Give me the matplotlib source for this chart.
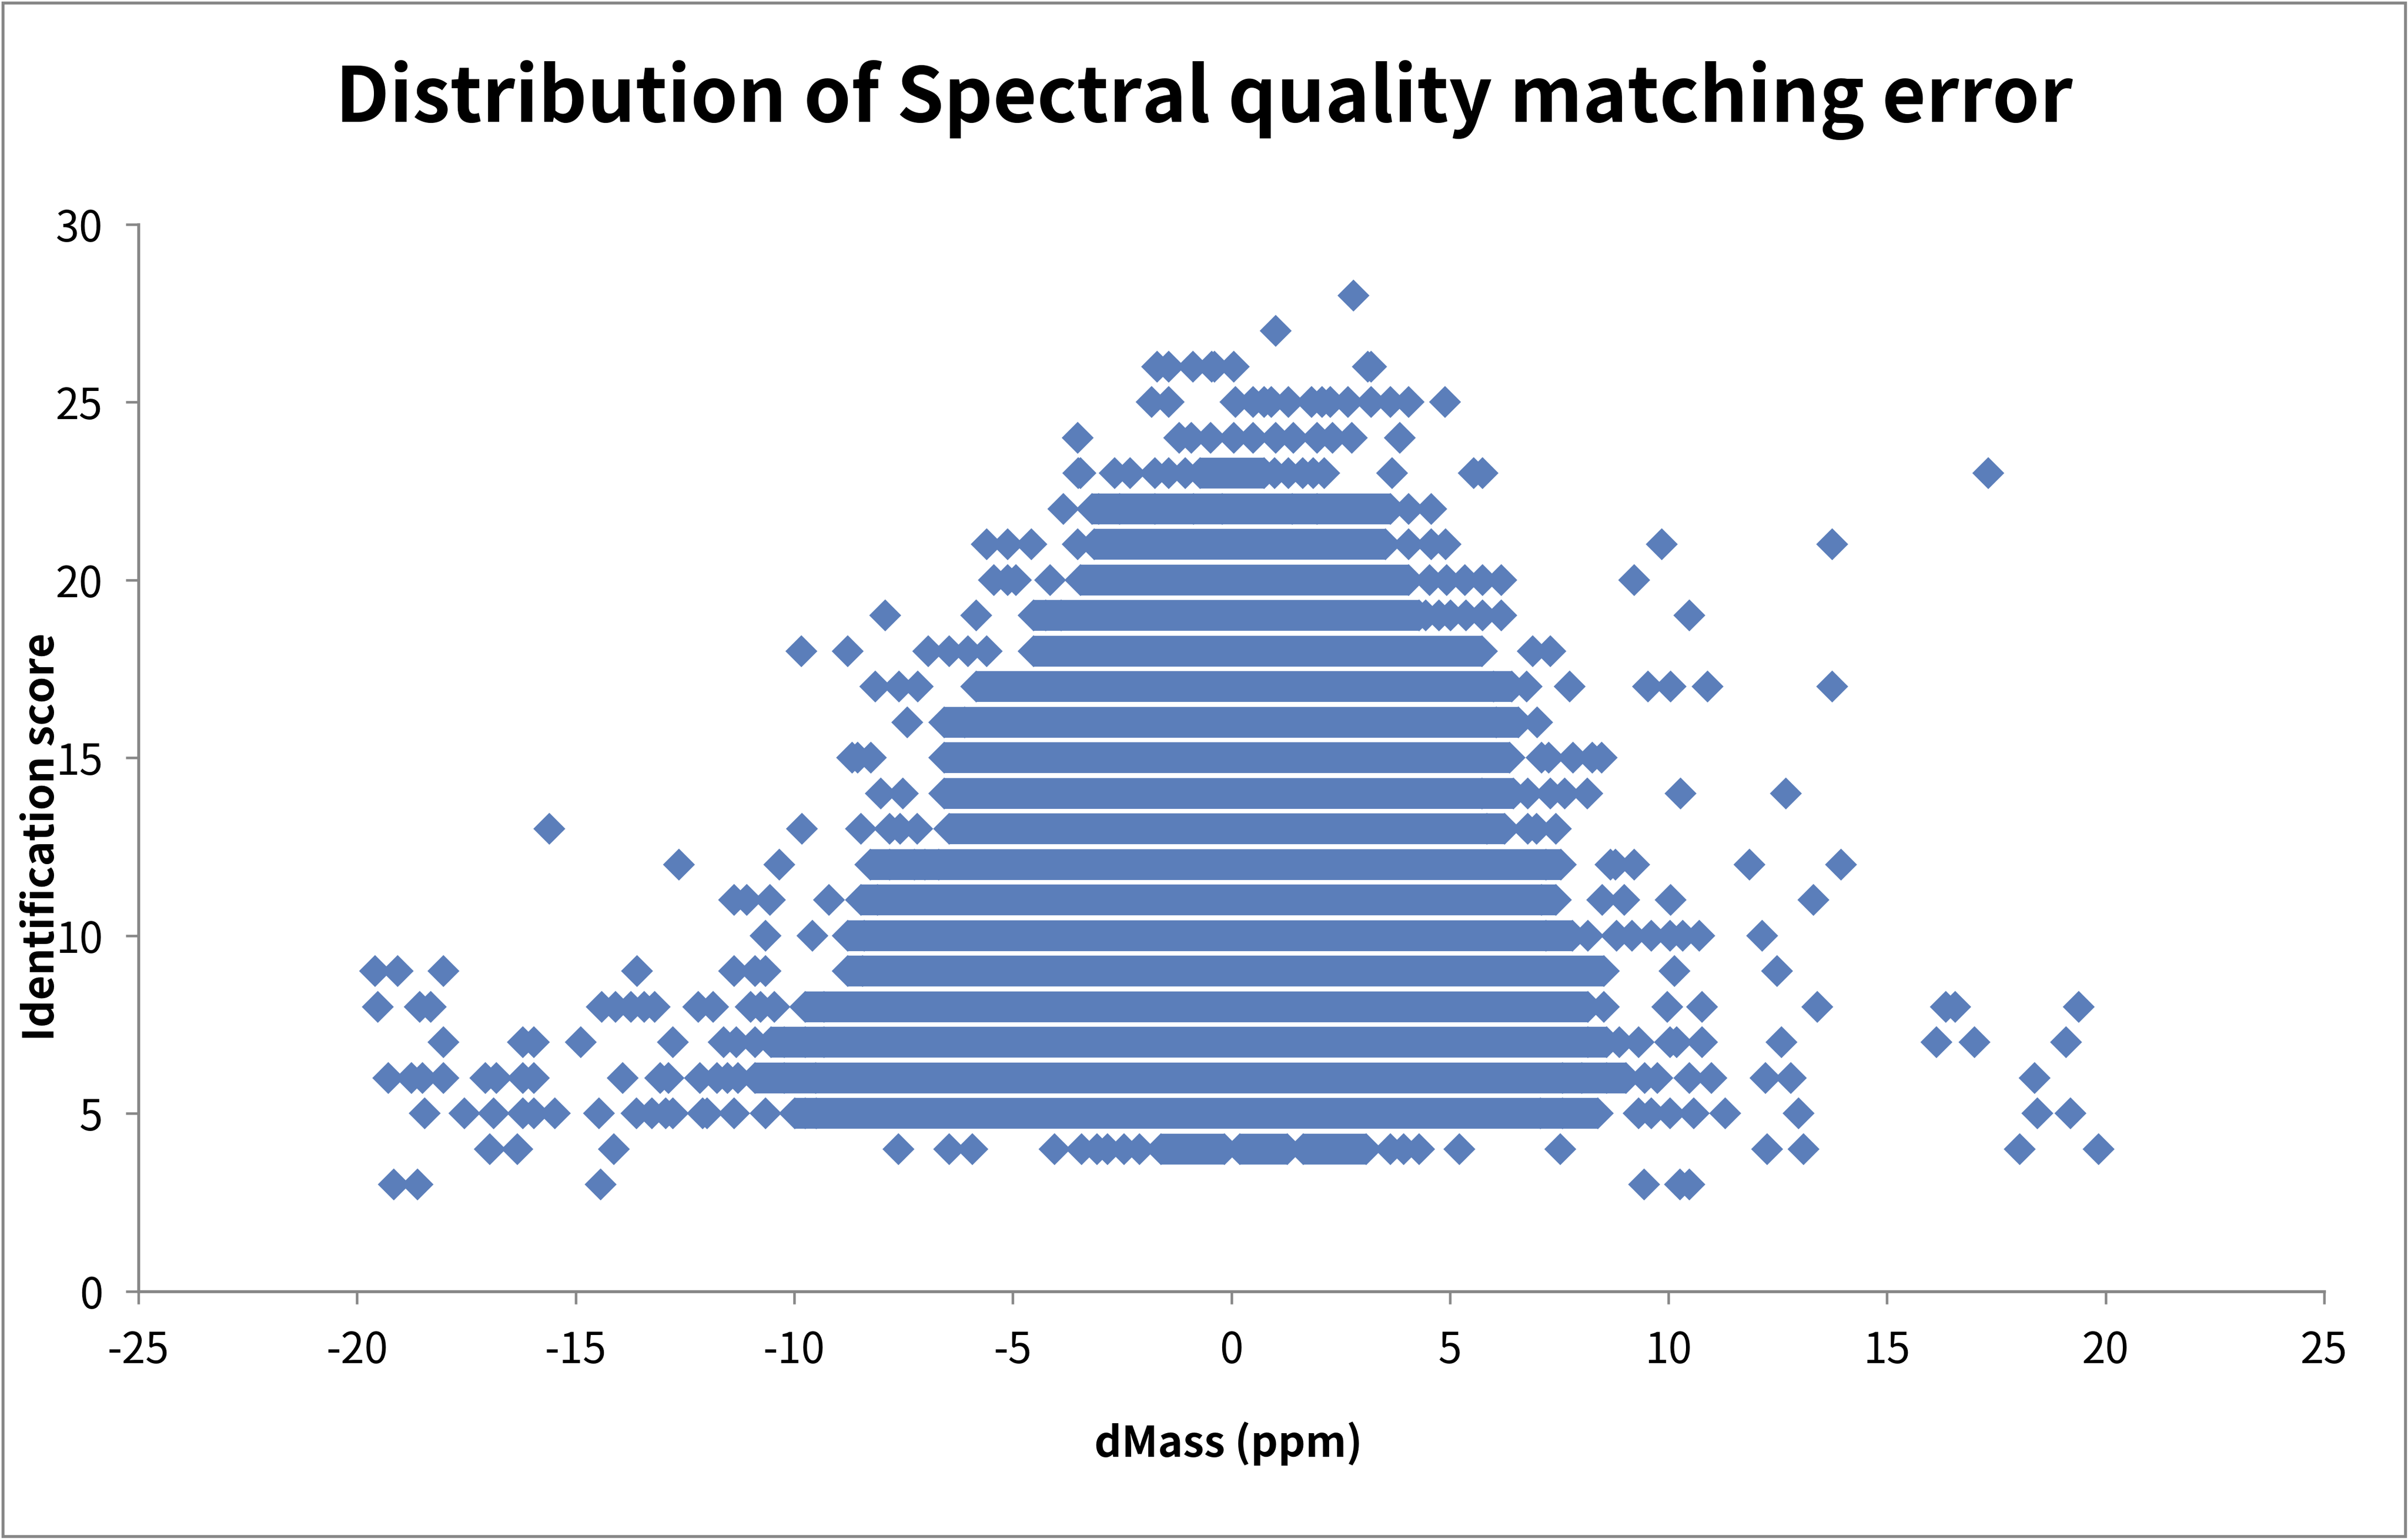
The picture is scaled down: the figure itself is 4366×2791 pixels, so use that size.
import matplotlib
matplotlib.use('Agg')
import matplotlib.pyplot as plt
from matplotlib.patches import Rectangle

plt.rcParams['font.family'] = ['Noto Sans CJK SC', 'DejaVu Sans']
plt.rcParams['axes.unicode_minus'] = False

# dMass (ppm) of the points at each identification score
row_03 = [-19.16, -18.62, -14.43, 9.44, 10.26, 10.48]
row_04 = [-16.97, -16.33, -14.12, -7.61, -6.45, -5.93, -4.05, -3.43, -3.07, -2.83, -2.46, -2.10,
          -1.61, -0.16, 0.19, 1.28, 1.64, 3.09, 3.64, 3.94, 4.30, 5.22, 7.53, 12.26, 13.09, 18.04, 19.84]
row_05 = [-18.45, -17.54, -16.87, -16.21, -15.96, -15.48, -14.46, -13.61, -13.25, -12.94, -12.77,
          -12.10, -11.99, -11.38, -10.65, -9.99, -9.75, -9.50, 7.07, 7.58, 8.38, 9.32, 9.61, 10.04,
          10.58, 11.30, 12.97, 18.44, 19.20]
row_06 = [-19.29, -18.75, -18.50, -18.02, -17.06, -16.81, -16.21, -15.96, -13.92, -13.07, -12.88,
          -12.16, -11.76, -11.52, -11.28, -10.89, -10.23, -9.51, 7.58, 8.02, 8.59, 9.03, 9.46, 9.75,
          10.48, 10.98, 12.22, 12.80, 18.37]
row_07 = [-18.02, -16.21, -15.96, -14.88, -12.77, -11.62, -11.32, -10.89, -10.53, -10.23, -9.75,
          -9.32, 8.16, 8.59, 8.88, 9.32, 10.04, 10.19, 10.77, 12.58, 16.13, 17.00, 19.10]
row_08 = [-19.53, -18.56, -18.32, -14.40, -14.09, -13.73, -13.43, -13.19, -12.20, -11.86, -11.00,
          -10.77, -10.45, -9.75, -9.32, 8.16, 8.52, 9.97, 10.77, 13.40, 16.35, 16.56, 19.39]
row_09 = [-19.59, -19.07, -18.02, -13.59, -11.38, -10.89, -10.65, -8.78, -8.43, 8.52, 10.14, 12.48]
row_10 = [-10.66, -9.58, -8.78, -8.40, 7.20, 7.80, 8.16, 8.81, 9.17, 9.61, 10.04, 10.33, 10.70, 12.14]
row_11 = [-11.38, -11.08, -10.55, -9.20, -8.47, -8.10, 7.10, 7.42, 8.49, 8.99, 10.05, 13.32]
row_12 = [-12.64, -10.34, -8.26, -7.82, -7.25, -7.01, -6.69, 7.20, 7.54, 8.67, 8.79, 9.21, 11.85, 13.95]
row_13 = [-15.60, -9.82, -8.47, -7.82, -7.58, -7.18, -6.45, 5.85, 6.25, 6.78, 6.98, 7.42]
row_14 = [-8.02, -7.52, -6.57, 5.73, 6.45, 6.78, 7.30, 7.62, 8.14, 10.28, 12.69]
row_15 = [-8.67, -8.55, -8.24, -6.57, 6.37, 7.10, 7.26, 7.82, 8.26, 8.47]
row_16 = [-7.41, -6.57, -6.10, 6.06, 6.57, 7.00]
row_17 = [-8.14, -7.60, -7.17, -5.84, 6.00, 6.42, 6.75, 7.74, 9.53, 10.05, 10.90, 13.74]
row_18 = [-9.83, -8.78, -6.93, -6.45, -6.02, -5.60, -4.52, 5.73, 6.90, 7.30]
row_19 = [-7.92, -5.84, -4.52, -4.24, -3.89, 4.30, 4.45, 4.75, 5.01, 5.37, 5.74, 6.18, 10.48]
row_20 = [-5.43, -5.12, -4.93, -4.15, -3.45, 4.05, 4.53, 4.93, 5.34, 5.74, 6.18, 9.21]
row_21 = [-5.60, -5.12, -4.58, -3.51, -3.13, 3.52, 4.05, 4.57, 4.90, 9.85, 13.74]
row_22 = [-3.84, -3.19, -3.04, -2.55, -1.75, -0.86, -0.21, 1.39, 1.96, 3.64, 4.05, 4.57]
row_23 = [-3.50, -3.45, -2.67, -2.31, -1.75, -1.43, -1.06, -0.71, 0.75, 0.99, 1.31, 1.63, 1.87,
          2.12, 3.68, 5.54, 5.74, 17.31]
row_24 = [-3.51, -1.19, -0.91, -0.47, 0.06, 0.50, 1.02, 1.42, 1.96, 2.31, 2.76, 3.85]
row_25 = [-1.83, -1.43, 0.10, 0.50, 0.75, 0.91, 1.31, 1.83, 2.07, 2.27, 2.67, 3.20, 3.64, 4.05, 4.89]
row_26 = [-1.70, -1.43, -0.88, -0.45, -0.38, 0.06, 3.12, 3.20]
row_27 = [1.01]
row_28 = [2.80]

scores = list(range(3, 29))
rows = [row_03, row_04, row_05, row_06, row_07, row_08, row_09, row_10, row_11, row_12, row_13,
        row_14, row_15, row_16, row_17, row_18, row_19, row_20, row_21, row_22, row_23, row_24,
        row_25, row_26, row_27, row_28]

# runs where the diamonds overlap so densely they form a solid band
band_score = [4, 4, 4, 5, 6, 7, 8, 9, 10, 11, 12, 13, 14, 15, 16, 17, 18, 19, 20, 21, 22, 23]
band_start = [-1.61, 0.19, 1.64, -9.99, -10.89, -10.53, -9.75, -8.78, -8.78, -8.47, -8.26, -6.45,
              -6.57, -6.57, -6.57, -5.84, -4.52, -4.52, -3.45, -3.13, -3.19, -0.71]
band_end = [-0.16, 1.28, 3.09, 8.38, 9.03, 8.59, 8.16, 8.52, 7.80, 7.42, 7.54, 6.25,
            6.45, 6.37, 6.57, 6.42, 5.73, 4.30, 4.05, 3.52, 3.64, 0.75]

BLUE = '#5B7EBA'
GREY = '#878787'

W, H, DPI = 4366, 2791, 300
fig = plt.figure(figsize=(W / DPI, H / DPI), dpi=DPI)
ax = fig.add_axes([0.0575, 0.1609, 0.9077, 0.6933])

xs = [x for row in rows for x in row]
ys = [s for s, row in zip(scores, rows) for _ in row]
ax.plot(xs, ys, linestyle='none', marker='D', markersize=9.9, color=BLUE,
        markeredgewidth=0, zorder=3)
bands = ax.hlines(band_score, band_start, band_end, colors=BLUE, linewidth=13.4, zorder=3)
bands.set_capstyle('butt')

ax.set_xlim(-25, 25)
ax.set_ylim(0, 30)
ax.set_xticks(range(-25, 26, 5))
ax.set_yticks(range(0, 31, 5))
for side in ['top', 'right']:
    ax.spines[side].set_visible(False)
for side in ['left', 'bottom']:
    ax.spines[side].set_color(GREY)
    ax.spines[side].set_linewidth(1.3)
ax.tick_params(direction='out', length=5.5, width=1.1, color=GREY, labelsize=18.5,
               labelcolor='black')
ax.tick_params(axis='x', pad=11)
ax.tick_params(axis='y', pad=10)
for lab in ax.get_xticklabels() + ax.get_yticklabels():
    lab.set_fontweight('light')

fig.text(0.5, 0.935, 'Distribution of Spectral quality matching error', ha='center',
         va='center', fontsize=33, fontweight='bold')
fig.text(0.510, 0.062, 'dMass (ppm)', ha='center', va='center', fontsize=18.5,
         fontweight='bold')
fig.text(0.0172, 0.456, 'Identification score', ha='center', va='center', rotation=90,
         fontsize=18.5, fontweight='bold')

fig.patches.append(Rectangle((0.0012, 0.0018), 0.9976, 0.9964, transform=fig.transFigure,
                             fill=False, edgecolor=GREY, linewidth=1.3))

fig.savefig('out.png', dpi=DPI)
